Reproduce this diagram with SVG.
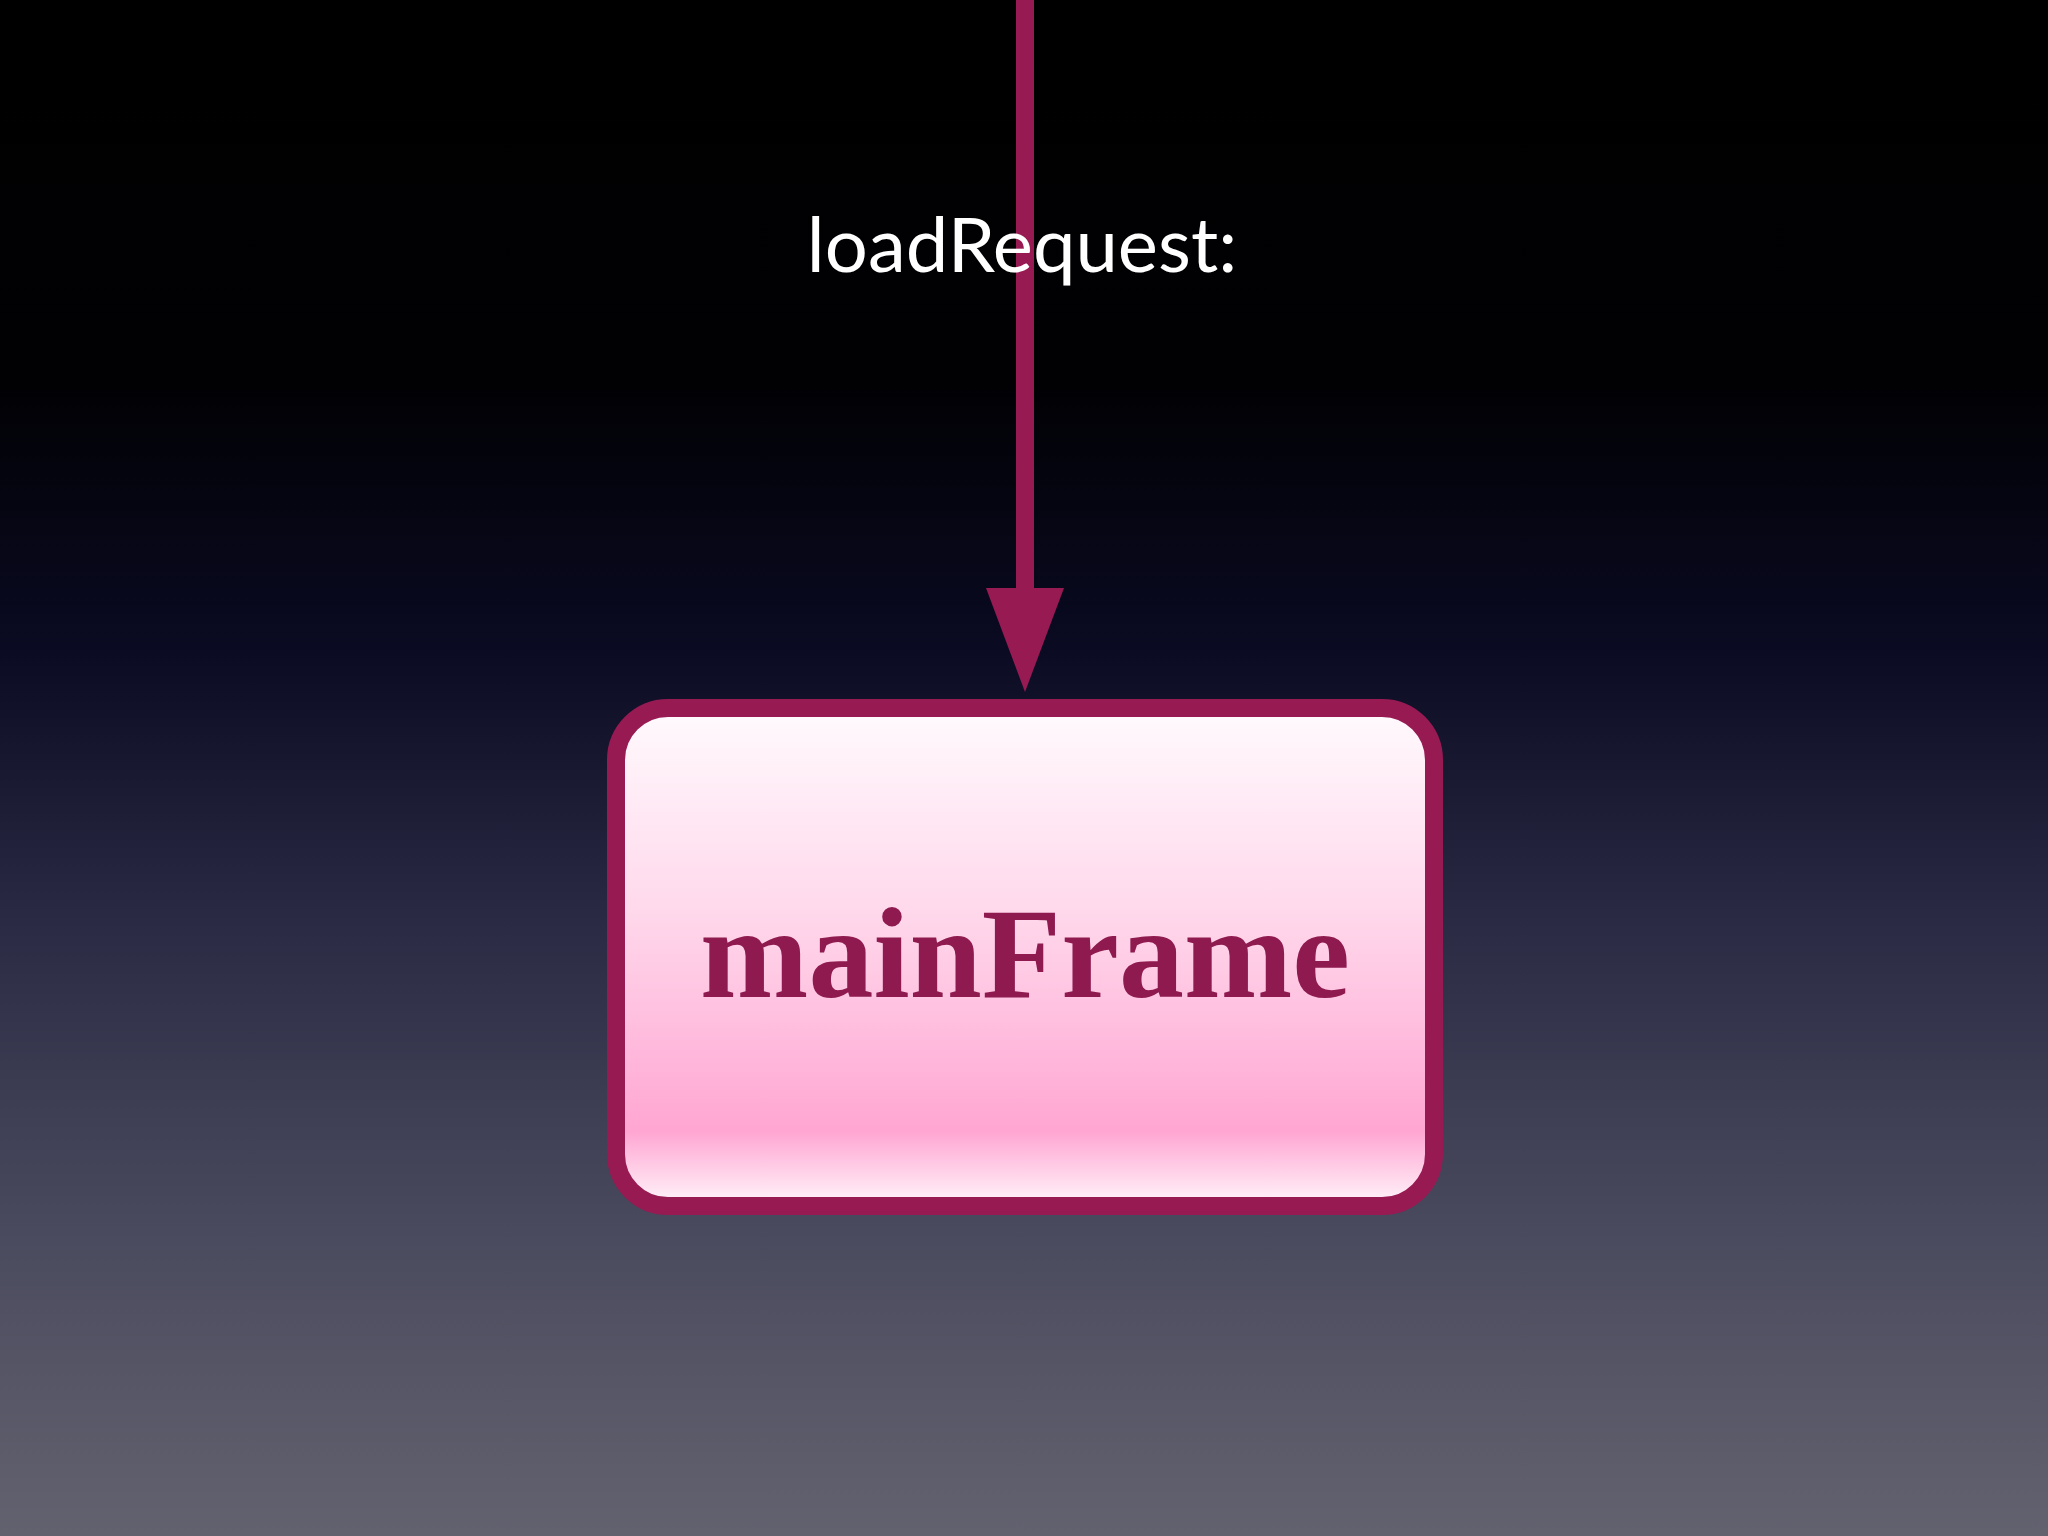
<svg xmlns="http://www.w3.org/2000/svg" width="2048" height="1536" viewBox="0 0 2048 1536">
<defs>
<linearGradient id="bg" x1="0" y1="0" x2="0" y2="1">
<stop offset="0" stop-color="#000"/>
<stop offset="0.25" stop-color="#010104"/>
<stop offset="0.42" stop-color="#0a0a22"/>
<stop offset="0.6" stop-color="#2a2a44"/>
<stop offset="0.8" stop-color="#4a4a5e"/>
<stop offset="1" stop-color="#62626f"/>
</linearGradient>
<linearGradient id="box" x1="0" y1="0" x2="0" y2="1">
<stop offset="0" stop-color="#fffafd"/>
<stop offset="0.4" stop-color="#ffd9ec"/>
<stop offset="0.85" stop-color="#ffa6d2"/>
<stop offset="1" stop-color="#fff6fb"/>
</linearGradient>
</defs>
<style>
.lbl{font-family:"Gill Sans","Lato","DejaVu Sans",sans-serif;fill:#fff;font-size:76px}
.nt{font-family:"Liberation Serif","DejaVu Serif",serif;font-weight:bold;fill:#8f1a4f;font-size:130px}
</style>
<rect width="2048" height="1536" fill="url(#bg)"/>
<g id="connectors">
<line x1="1025" y1="0" x2="1025" y2="595" stroke="#971a53" stroke-width="18"/>
<path d="M986,588 L1064,588 L1025,692 Z" fill="#971a53"/>
</g>
<text class="lbl" x="1022" y="272" text-anchor="middle">loadRequest:</text>
<g id="mainFrame">
<rect x="616" y="708" width="818" height="498" rx="52" fill="url(#box)" stroke="#971a53" stroke-width="18"/>
<text class="nt" x="1025" y="997" text-anchor="middle">mainFrame</text>
</g>
</svg>
